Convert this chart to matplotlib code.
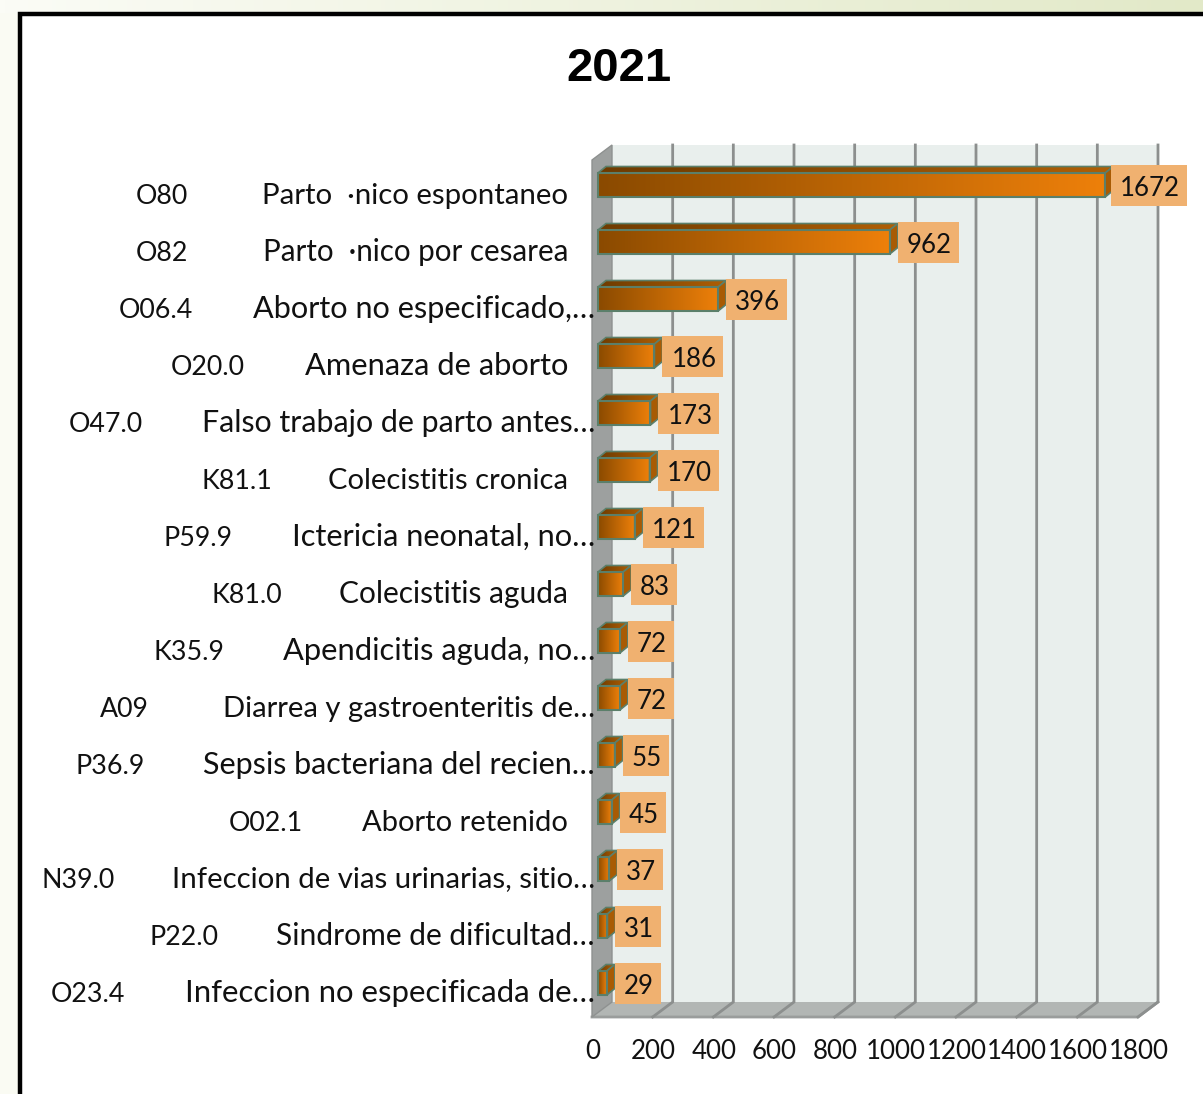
import numpy as np
import matplotlib
matplotlib.use("Agg")
import matplotlib.pyplot as plt
from matplotlib.colors import LinearSegmentedColormap
from matplotlib.patches import Polygon, Rectangle
from matplotlib.lines import Line2D
from matplotlib.transforms import Affine2D, IdentityTransform

codes = ["O80", "O82", "O06.4", "O20.0", "O47.0", "K81.1", "P59.9", "K81.0",
         "K35.9", "A09", "P36.9", "O02.1", "N39.0", "P22.0", "O23.4"]
descriptions = ["Parto  ·nico espontaneo", "Parto  ·nico por cesarea",
                "Aborto no especificado,…", "Amenaza de aborto",
                "Falso trabajo de parto antes…", "Colecistitis cronica",
                "Ictericia neonatal, no…", "Colecistitis aguda",
                "Apendicitis aguda, no…", "Diarrea y gastroenteritis de…",
                "Sepsis bacteriana del recien…", "Aborto retenido",
                "Infeccion de vias urinarias, sitio…", "Sindrome de dificultad…",
                "Infeccion no especificada de…"]
values = [1672, 962, 396, 186, 173, 170, 121, 83, 72, 72, 55, 45, 37, 31, 29]
x_ticks = [0, 200, 400, 600, 800, 1000, 1200, 1400, 1600, 1800]
title = "2021"

# layout only (reference pixels, font sizes fitted to the reference's text widths)
code_left = [136, 136, 119, 171, 69, 202, 164, 212, 154, 100, 76, 229, 42, 149, 51]
desc_sizes = [21.15, 21.25, 22.1, 22.25, 21.85, 21.0, 22.15, 21.55, 22.25, 21.1, 21.95, 21.0, 21.15, 21.65, 22.45]
W, H = 1203, 1094
FONT = "Lato"
FS = 18.6
FS_CODE = 19.3
plt.rcParams["font.family"] = [FONT, "DejaVu Sans"]

fig = plt.figure(figsize=(W / 100, H / 100), dpi=100, facecolor="white")

# page background and frame
bg = fig.add_axes([0, 0, 1, 1], zorder=0)
bg.set_xlim(0, W); bg.set_ylim(H, 0); bg.axis("off")
top_cmap = LinearSegmentedColormap.from_list("t", ["#FBFCF6", "#E2E9C8"])
bg.imshow(np.linspace(0, 1, 256)[None, :], extent=(0, W, H, 0), cmap=top_cmap, aspect="auto")
bg.add_patch(Rectangle((0, 13), 19, H, fc="#FAFBF3", ec="none", zorder=2))
bg.add_patch(Rectangle((20, 14), W, H, fc="white", ec="black", lw=3.2, zorder=3))
bg.set_xlim(0, W); bg.set_ylim(H, 0)

# plot axes: front plane of the 3D box
L, R, T, B = 592, 1138, 160, 1017
ax = fig.add_axes([L / W, 1 - B / H, (R - L) / W, (B - T) / H], zorder=2)
ax.patch.set_alpha(0)
for s in ax.spines.values():
    s.set_visible(False)
ROW, Y0 = 57.0, 185.0
ax.set_xlim(0, 1800)
ax.set_ylim((B - Y0) / ROW, (T - Y0) / ROW)

D = (20, 15)      # depth of the box
BD = (8, 6.5)     # depth of each bar
BX = 6            # bars start inside the floor
BH = 24 / ROW
ID = IdentityTransform()
off = lambda dx, dy: ax.transData + Affine2D().translate(dx, -dy)

# walls
ylo, yhi = ax.get_ylim()
p0 = ax.transData.transform((0, ylo)); p1 = ax.transData.transform((1800, ylo))
t0 = ax.transData.transform((0, yhi)); t1 = ax.transData.transform((1800, yhi))
dv = np.array([D[0], D[1]])
ax.add_patch(Polygon([p0 + dv, p1 + dv, t1 + dv, t0 + dv], closed=True, fc="#E9EFED", ec="none",
                     transform=ID, zorder=1, clip_on=False))
ax.add_patch(Polygon([p0, p1, p1 + dv, p0 + dv], closed=True, fc="#B2B6B4", ec="none",
                     transform=ID, zorder=1.5, clip_on=False))
ax.add_line(Line2D([p0[0], p1[0], p1[0] + D[0]], [p0[1], p1[1], p1[1] + D[1]], color="#9A9D9C", lw=2,
                   transform=ID, zorder=1.6, clip_on=False))
for v in x_ticks[1:]:
    q = ax.transData.transform((v, ylo))
    r = ax.transData.transform((v, yhi))
    ax.add_line(Line2D([q[0], q[0] + D[0], r[0] + D[0]], [q[1], q[1] + D[1], r[1] + D[1]],
                       color="#8C8F8E", lw=2.0, transform=ID, zorder=1.7, clip_on=False,
                       solid_joinstyle="miter"))
ax.add_patch(Polygon([p0, p0 + dv, t0 + dv, t0], closed=True, fc="#9DA09F", ec="#8E9190", lw=1,
                     transform=ID, zorder=1.8, clip_on=False))

# bars
cm_front = LinearSegmentedColormap.from_list("f", ["#8A4A00", "#EE800A"])
cm_top = LinearSegmentedColormap.from_list("u", ["#6E3B00", "#B05F05"])
grad = np.linspace(0, 1, 256)[None, :]
EDGE = "#5B7F6A"
bt = off(BX, 0)
for i, (v, code, desc, cl, dfs) in enumerate(zip(values, codes, descriptions, code_left, desc_sizes)):
    a = bt.transform((0, i - BH / 2))   # display: upper-left of front face
    b = bt.transform((v, i + BH / 2))   # display: lower-right of front face
    xl, xr, yt, yb = a[0], b[0], a[1], b[1]
    im = ax.imshow(grad, extent=(0, v, i + BH / 2, i - BH / 2), cmap=cm_front, aspect="auto",
                   transform=bt, zorder=3, interpolation="bilinear")
    im.set_clip_on(False)
    top = Polygon([(xl, yt), (xr, yt), (xr + BD[0], yt + BD[1]), (xl + BD[0], yt + BD[1])], closed=True,
                  fc="none", ec=EDGE, lw=1.2, transform=ID, zorder=3.2, clip_on=False)
    ax.add_patch(top)
    imt = ax.imshow(grad, extent=(xl, xr + BD[0], yt, yt + BD[1]), cmap=cm_top, aspect="auto",
                    transform=ID, zorder=3.1, interpolation="bilinear")
    imt.set_clip_path(Polygon(top.get_xy(), closed=True, transform=ID))
    ax.add_patch(Polygon([(xr, yt), (xr + BD[0], yt + BD[1]), (xr + BD[0], yb + BD[1]), (xr, yb)],
                         closed=True, fc="#A85B04", ec=EDGE, lw=1.2, transform=ID, zorder=3.2, clip_on=False))
    ax.barh(i, v, height=BH, facecolor="none", edgecolor=EDGE, linewidth=1.5, transform=bt,
            zorder=3.3, clip_on=False)

    # value label box
    w = 16 + 15 * len(str(v))
    bx0 = xr + BD[0] + (-2 if v > 1000 else 0)
    ym = yt - (yt - yb) / 2 - 0.5
    ax.add_patch(Rectangle((bx0, ym - 20.5), w, 41, fc="#F0B170", ec="none", transform=ID, zorder=4,
                           clip_on=False))
    ax.text(bx0 + w / 2 + 1, ym - 10, str(v), ha="center", va="baseline", fontsize=FS, color="#111111",
            transform=ID, zorder=5, clip_on=False)

    # category labels: code and description
    y_base = ax.transData.transform((0, i))[1] - 18.5
    ax.text(cl, y_base, code, ha="left", va="baseline", fontsize=FS_CODE, color="#111111",
            transform=ID, clip_on=False)
    xr_desc = 595 if desc.endswith("…") else 568
    ax.text(xr_desc, y_base, desc, ha="right", va="baseline", fontsize=dfs, color="#111111",
            transform=ID, clip_on=False)

ax.set_xlim(0, 1800)
ax.set_ylim(ylo, yhi)
ax.set_yticks([])
ax.set_xticks(x_ticks)
ax.set_xticklabels([str(t) for t in x_ticks], fontsize=FS, color="#111111")
ax.tick_params(axis="x", length=0, pad=15.5)
shift = Affine2D().translate(0.5, 0)
for lab in ax.get_xticklabels():
    lab.set_transform(lab.get_transform() + shift)

fig.text(619 / W, 1 - 81 / H, title, ha="center", va="baseline", fontsize=34, fontweight="bold",
         family="Liberation Sans", color="black", zorder=10)

fig.savefig("out.png", dpi=100)
